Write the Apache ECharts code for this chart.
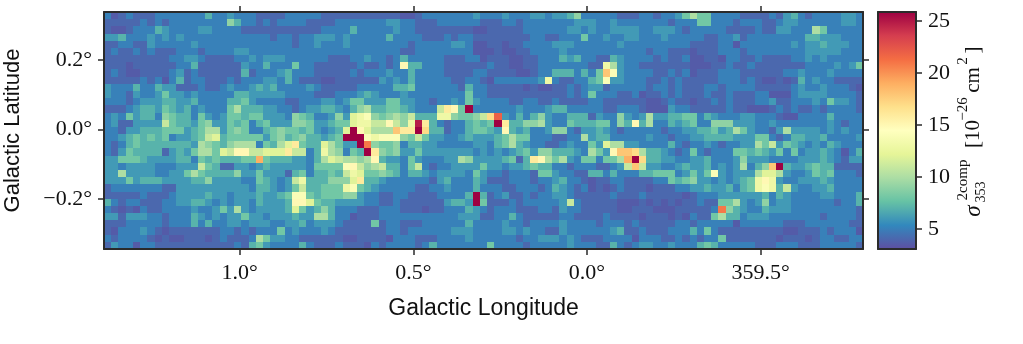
<!DOCTYPE html>
<html>
<head>
<meta charset="utf-8">
<script src="https://cdn.jsdelivr.net/npm/echarts@6/dist/echarts.min.js"></script>
<style>
  html, body { margin: 0; padding: 0; background: #fff; }
  #chart { width: 1023px; height: 344px; }
</style>
</head>
<body>
<div id="chart"></div>
<script>
// map values, top row first, split into four longitude blocks (left to right)
const blockA = [
  [5,3.5,4,5,4,4,4,5,5,5,5,5,5,5,7,5,5,6,5,5,5,4,4,4,4,5,5],
  [4,4,4,4,4,5,4,5,4,5,5,5,5,5,5,5,5,9,7,5,5,4,5,4,5,5,5],
  [4,3.5,3.5,4,5,5,5,7,6,5,5,5,5,6,6,5,5,5,5,4,4,4,4,4,4,4,4],
  [6,6,7,5,5,5,6,5,6,5,6,5,5,5,5,5,5,5,5,5,5,5,5,4,5,5,4],
  [4,4,5,5,4,4,6,5,5,5,5,5,6,5,5,5,5,5,5,5,5,5,5,5,5,5,4],
  [4,5,4,4,5,4,5,4,4,4,5,5,5,4,5,5,5,5,6,6,5,5,5,5,5,5,5],
  [4,4,4,4,4,4,4,4,4,5,5,6,6,5,4,4,4,4,5,5,6,5,6,6,6,5,5],
  [4,4,4,3.5,4,4,4,4,4,4,5,5,7,4,4,4,4,4,4,6,5,5,7,5,5,5,8],
  [4,5,4,3.5,3.5,4,4,4,4,5,6,4,5,4,4,4,4,4,4,7,4,5,5,5,6,7,5],
  [4,4,4,4,4,5,4,5,3.5,5,7,4,5,5,4,4,4,5,4,5,5,5,6,6,5,7,5],
  [6,5,5,5,7,5,5,7,6,6,4,4,4,5,4,4,5,6,5,5,6,7,6,7,5,5,5],
  [6,5,5,4,6,5,5,6,8,6,6,5,6,5,5,5,5,5,7,7,6,6,6,6,6,5,5],
  [5,5,5,4,5,6,6,6,7,7,6,6,7,5,5,5,5,7,7,8,6,5,5,5,5,4,4],
  [4,4,4,5,6,7,7,6,8,7,6,7,5,6,5,5,5,8,10,7,7,7,6,6,5,5,4],
  [5,6,5,8,6,7,7,5,9,8,7,7,5,8,6,5,6,8,8,7,8,8,6,6,6,5,9],
  [5,6,4,4,6,6,6,6,11,8,7,7,6,8,9,6,6,8,7,8,5,7,8,6,6,6,9],
  [5,5,4,6,6,7,7,7,8,8,8,6,7,8,10,10,6,8,9,8,5,5,7,8,9,8,8],
  [5,5,6,7,8,7,8,7,8,5,6,6,7,8,11,12,7,8,8,8,8,8,6,8,9,7,8],
  [5,4,5,7,8,7,7,7,7,7,7,7,6,10,9,8,7,9,10,10,10,5,8,7,10,12,16],
  [5,4,6,8,7,7,7,7,4,6,7,6,8,10,10,8,12,11,15,15,11,11,12,12,12,16,11],
  [6,6,8,8,8,7,6,6,6,6,7,7,5,8,7,8,7,7,7,8,8,19,8,7,7,7,6],
  [6,6,5,6,6,6,6,5,5,5,6,6,6,11,8,7,4,4,6,6,5,6,7,6,6,6,6],
  [6,6,10,6,6,6,6,5,5,6,6,8,10,8,7,7,7,7,9,6,6,8,6,6,6,4,7],
  [6,6,6,8,6,7,7,7,6,6,6,6,7,7,9,6,6,6,6,5,5,8,7,6,5,6,11],
  [4,5,5,5,5,5,5,5,4,4,6,6,6,6,6,6,6,6,6,6,5,7,7,6,5,6,8],
  [4,4,4,4,4,5,4,4,4,5,6,6,6,6,7,6,6,5,6,6,6,7,6,6,7,8,14],
  [7,5,4,5,5,4,4,4,5,5,6,6,7,7,6,5,6,5,6,6,5,7,6,6,6,7,15],
  [5,4,3.5,4,3.5,5,4,4,5,5,5,5,6,5,5,6,8,6,10,6,5,6,6,6,6,7,12],
  [6,6,4,6,6,6,5,5,4,5,5,5,7,6,5,6,5,6,6,8,6,6,5,6,6,6,7],
  [4,4,4,5,5,5,5,5,4,5,5,5,7,5,7,5,5,6,6,5,6,6,6,5,5,6,6],
  [4,3.5,5,5,5,6,5,4,3.5,4,4,4,4,4,4,4,5,5,4,5,4,5,5,5,8,5,6],
  [5,4,5,5,5,5,4,3.5,4,3.5,3.5,4,4,4,3.5,4,5,4,4,4,5,10,8,6,6,5,5],
  [4,6,5,5,3.5,5,5,4,4,4,4,4,4,4,4,4,4,4,5,4,7,8,6,5,5,5,5]
]
const blockB = [
  [5,5,5,4,4,4,4,4,4,4,4,4,4,4,3.5,3.5,4,5,5,5,5,5,5,5,6,5,5],
  [5,4,4,4,4,5,5,5,5,5,5,5,6,6,5,5,4,4,4,5,5,5,5,5,5,4,4],
  [4,4,4,5,5,5,5,7,5,5,5,5,5,6,5,5,4,4,4,4,4,4,4,4,3.5,3.5,4],
  [5,5,6,6,6,5,6,5,5,5,5,5,7,5,5,5,5,4,4,4,5,4,5,5,4,4,4],
  [5,5,6,5,5,5,6,5,5,5,5,5,5,5,5,4,5,5,5,5,5,6,6,5,3.5,3.5,4],
  [5,5,5,5,5,5,5,5,5,5,5,5,5,5,4,4,5,5,5,5,5,5,5,5,3.5,3.5,3.5],
  [5,5,5,5,4,4,4,5,5,6,5,5,4,5,7,5,5,5,5,5,4,4,4,5,5,3.5,4],
  [5,5,4,4,4,4,4,4,5,4,4,5,4,5,15,7,7,5,5,5,4,4,4,4,4,4,5],
  [5,5,4,4,4,4,4,5,4,5,5,5,6,5,5,7,5,5,5,5,4,4,4,4,5,5,4],
  [4,4,4,3.5,3.5,4,4,4,4,4,4,6,5,6,5,7,5,5,5,5,5,4,4,5,5,4,3.5],
  [5,6,5,4,4,4,4,4,5,5,5,5,5,7,7,8,5,5,5,5,5,5,4,7,5,5,4],
  [5,5,4,4,4,5,5,5,6,7,6,5,5,5,6,5,5,5,5,5,5,5,5,8,5,5,4],
  [5,5,5,6,6,5,6,8,8,6,6,6,8,8,6,6,5,5,4,5,5,6,5,8,6,5,5],
  [5,6,6,7,7,6,5,7,9,10,7,7,8,8,7,6,5,5,5,11,16,15,8,26,5,5,5],
  [8,7,5,5,6,9,6,12,13,14,9,8,9,10,9,11,7,7,7,13,13,9,8,8,9,11,17],
  [9,8,6,6,7,8,8,12,13,13,11,11,15,11,9,13,25,16,7,5,4,5,5,7,8,7,8],
  [7,8,6,5,6,7,12,26,15,12,10,10,10,18,16,16,26,17,7,7,4,5,5,7,8,8,7],
  [9,7,7,6,7,8,26,26,26,14,13,14,14,14,9,8,11,8,6,6,5,5,6,7,6,6,6],
  [8,7,7,12,10,8,6,6,26,21,9,8,8,9,5,7,7,6,6,5,5,5,5,5,6,6,5],
  [11,5,7,13,10,9,5,8,7,26,16,9,8,9,6,6,8,6,6,6,6,6,6,6,5,6,5],
  [6,5,7,10,12,11,10,10,9,10,15,7,6,6,5,8,6,5,5,5,6,6,10,9,6,6,6],
  [6,5,8,8,8,8,14,15,11,9,10,11,7,7,5,8,11,5,4,5,5,6,6,6,6,8,6],
  [8,5,7,7,8,7,11,13,12,8,8,9,8,7,5,7,7,6,5,6,6,6,6,5,8,6,5],
  [13,7,7,7,9,9,9,12,16,7,7,6,5,5,5,5,5,5,4,6,7,5,5,5,7,6,4],
  [11,7,7,8,8,8,13,14,8,7,6,5,5,5,5,5,4,4,5,5,6,5,5,5,7,5,5],
  [14,8,7,8,8,8,9,9,6,5,5,4,4,5,5,4,4,4,4,5,5,5,5,7,26,7,4],
  [15,12,8,7,7,6,6,6,6,5,5,4,4,5,4,4,4,4,4,4,6,7,7,6,26,8,4],
  [8,6,7,9,7,5,5,5,4,4,4,5,5,5,4,4,4,3.5,4,4,5,5,5,7,6,5,4],
  [6,6,10,10,7,5,5,3.5,4,4,4,5,5,5,5,5,5,5,5,5,5,5,6,6,6,4,4],
  [7,5,6,6,6,5,4,4,4,4,8,4,5,5,4,4,4,5,5,5,5,5,5,7,5,5,5],
  [5,5,5,6,5,4,4,4,4,4,4,4,5,5,4,5,5,5,5,5,5,6,6,6,5,5,5],
  [4,4,4,4,4,4,3.5,3.5,4,4,4,4,3.5,5,5,5,4,4,4,5,5,5,5,6,5,5,5],
  [7,5,4,4,4,5,4,4,4,3.5,5,4,5,5,5,5,4,5,7,5,5,5,5,5,5,5,8]
]
const blockC = [
  [5,6,5,5,5,6,6,5,6,6,7,9,5,5,5,5,5,4,4,4,5,5,4,5,5,6,8],
  [4,5,5,4,5,5,5,5,5,5,5,6,6,6,5,5,6,5,5,5,5,5,5,5,4,5,5],
  [4,4,4,4,5,5,5,5,5,5,6,6,5,6,5,5,6,6,6,6,5,5,6,6,6,5,4],
  [4,4,4,4,4,5,5,4,4,5,5,5,8,5,5,6,5,5,6,6,5,5,5,6,5,5,5],
  [4,3.5,4,4,5,5,5,5,6,6,6,5,5,5,5,5,5,6,5,5,5,5,5,5,5,5,5],
  [4,3.5,3.5,4,4,5,5,5,5,6,5,5,5,5,5,5,5,5,5,5,5,4,5,5,4,4,4],
  [4,4,3.5,3.5,4,4,5,5,5,7,6,7,5,5,4,4,7,6,5,5,5,5,4,5,4,4,5],
  [4,4,3.5,3.5,4,4,5,5,5,5,5,5,5,4,4,13,10,6,5,5,4,4,4,4,4,4,4],
  [4,4,4,3.5,3.5,4,5,5,7,7,7,5,7,5,8,18,14,6,5,5,5,5,4,4,5,4,5],
  [5,5,5,5,5,5,6,13,5,4,4,5,5,7,8,14,6,6,5,5,5,4,4,5,4,5,4],
  [4,4,4,4,3.5,4,3.5,3.5,4,4,5,4,5,6,6,4,5,5,5,5,5,4,5,5,4,5,4],
  [4,4,4,4,4,4,4,4,4,4,5,4,5,8,5,5,5,4,4,5,3.5,4,4,5,4,5,4],
  [5,5,4,4,5,5,4,4,5,4,4,4,4,5,5,4,4,4,4,4,4,3.5,3.5,4,5,4,4],
  [5,5,5,6,5,5,5,6,7,7,5,5,5,5,5,4,4,5,5,5,4,3.5,3.5,3.5,6,5,5],
  [22,6,5,7,5,7,9,6,5,5,7,7,7,4,6,5,5,9,6,5,6,10,6,6,7,7,8],
  [26,16,7,7,9,9,10,6,5,5,8,7,7,7,8,8,5,9,7,15,7,10,5,5,7,6,7],
  [6,15,7,6,7,5,5,6,9,9,5,4,6,6,7,6,5,4,5,5,5,5,5,4,5,5,6],
  [7,8,10,8,8,5,5,5,4,4,5,5,10,6,7,7,5,5,5,5,5,6,5,5,4,5,5],
  [7,8,10,7,6,5,5,4,4,5,6,5,5,8,6,12,10,10,6,6,5,5,5,5,7,5,4],
  [6,5,6,7,8,6,9,9,7,7,7,6,5,10,8,6,15,18,18,17,10,7,7,6,5,4,5],
  [6,7,8,4,7,16,15,10,8,10,6,5,8,8,5,8,8,10,19,26,17,7,7,6,6,5,5],
  [6,5,6,6,7,8,7,7,5,5,4,5,5,5,4,4,5,6,11,18,11,6,6,5,5,6,7],
  [5,4,5,5,5,4,8,8,6,5,5,4,4,7,7,5,7,5,5,5,7,7,8,8,8,5,6],
  [4,4,5,5,5,4,5,5,6,7,5,5,4,3.5,4,4,5,5,4,4,4,4,5,5,8,7,8],
  [5,4,4,5,5,5,4,5,7,6,5,4,5,3.5,4,3.5,4,5,4,4,4,3.5,4,4,4,5,5],
  [5,6,4,4,5,4,5,5,6,6,5,4,4,4,4,4,5,4,4,4,5,4,4,4,4,4,3.5],
  [4,4,5,4,5,5,5,5,5,6,11,5,4,4,4,4,4,3.5,3.5,3.5,4,3.5,4,3.5,4,3.5,4],
  [5,5,5,4,4,4,5,5,4,6,5,5,4,4,4,4,4,3.5,3.5,4,4,4,3.5,3.5,3.5,4,4],
  [5,5,7,5,4,4,4,4,4,5,5,4,4,4,4,5,4,4,4,4,3.5,4,4,4,3.5,4,3.5],
  [5,6,5,5,4,5,5,5,5,6,5,5,5,5,4,5,5,5,4,5,4,4,4,4,4,5,5],
  [5,6,6,5,6,5,5,4,4,6,5,5,5,5,5,5,6,7,4,4,5,4,4,4,5,5,5],
  [5,5,5,4,5,5,6,6,6,5,6,5,4,4,4,5,5,5,5,3.5,5,5,5,4,4,5,4],
  [5,5,5,5,4,5,5,5,5,5,6,5,5,5,4,4,7,5,4,5,6,6,5,5,6,5,5]
]
const blockD = [
  [10,8,8,5,5,5,5,4,4,4,4,5,4,6,7,5,4,5,5,5,5,6,6,5],
  [5,8,8,5,5,5,4,5,5,5,4,4,5,6,6,5,5,5,5,5,5,6,6,5],
  [5,5,5,5,5,4,4,4,4,5,4,4,6,6,5,5,5,10,8,5,5,5,5,5],
  [5,5,4,4,5,5,6,4,5,5,5,5,5,5,5,5,7,7,6,6,6,5,5,5],
  [4,4,4,4,5,5,3.5,5,5,5,5,5,5,5,6,5,6,6,7,6,6,6,5,5],
  [3.5,4,4,4,5,5,5,4,5,5,5,5,5,5,5,5,6,6,6,6,6,5,5,5],
  [3.5,3.5,4,4,3.5,5,5,4,4,5,4,4,4,4,5,5,6,5,6,5,5,5,5,5],
  [3.5,3.5,3.5,4,4,5,4,4,5,4,4,4,4,4,4,4,5,5,5,5,6,5,6,8],
  [3.5,4,4,4,5,5,5,4,4,4,4,4,4,5,5,6,5,5,5,6,5,5,5,5],
  [4,4,4,4,5,5,5,4,5,4,3.5,3.5,4,3.5,4,7,5,6,5,5,4,4,4,4],
  [4,4,5,5,4,5,5,5,5,4,4,4,4,4,5,6,5,5,6,5,5,5,4,3.5],
  [4,4,5,4,4,5,4,4,4,5,5,3.5,3.5,3.5,5,6,6,6,6,5,5,5,5,4],
  [3.5,4,4,5,4,5,4,4,4,5,5,6,4,4,5,5,5,6,5,8,6,6,5,4],
  [4,4,4,4,4,5,4,4,3.5,3.5,3.5,4,5,4,5,4,4,5,4,5,5,5,5,4],
  [8,5,7,6,5,5,5,6,6,5,5,5,4,3.5,3.5,5,5,5,5,7,5,5,5,5],
  [8,5,5,9,9,9,6,6,6,5,5,6,5,5,5,5,5,5,5,6,5,4,5,5],
  [6,7,7,8,6,7,10,8,6,5,5,4,6,10,6,6,6,6,5,6,5,6,5,5],
  [6,6,7,7,7,7,6,6,6,8,8,5,4,5,7,7,6,6,7,5,5,5,5,6],
  [5,5,6,5,4,5,5,6,6,10,8,11,6,8,7,6,5,6,5,7,6,5,5,5],
  [8,5,4,5,5,5,8,8,7,8,7,6,8,5,8,5,6,6,7,6,5,3.5,5,7],
  [6,6,7,5,5,5,6,9,6,6,6,5,5,5,5,6,6,6,7,6,5,4,6,6],
  [6,6,7,5,6,5,6,10,5,7,9,18,26,7,6,6,7,8,7,7,4,4,4,4],
  [8,6,8,14,6,5,6,6,6,10,12,12,10,6,5,5,6,8,7,8,5,5,5,4],
  [9,6,6,5,6,5,6,7,8,13,15,13,6,5,5,6,6,6,7,6,5,5,5,5],
  [6,6,7,6,6,7,5,7,8,13,14,13,7,11,6,5,5,6,6,7,5,5,5,5],
  [4,5,5,5,6,6,6,6,6,6,7,5,7,6,5,5,5,5,6,6,5,5,5,7],
  [4,5,4,4,8,8,10,6,5,6,9,5,6,6,5,5,5,5,5,5,4,5,5,7],
  [4,4,4,5,21,9,7,6,5,5,7,6,6,6,5,5,5,5,5,5,5,5,5,4],
  [5,4,4,8,10,7,7,5,6,6,6,5,5,5,5,5,5,5,4,5,5,5,5,4],
  [4,5,5,5,5,5,3.5,5,5,5,5,5,5,4,4,4,5,5,5,5,5,5,4,4],
  [7,5,8,5,4,4,4,4,4,4,4,4,4,3.5,3.5,4,4,4,5,4,5,5,5,3.5],
  [5,4,5,5,8,4,4,4,4,4,4,4,3.5,4,4,4,3.5,4,5,5,4,4,5,5],
  [5,7,8,7,5,5,5,5,5,4,4,4,5,5,5,4,4,4,5,5,5,5,5,4]
]

const lonRange = [-0.795, 1.391]
const latRange = [-0.344, 0.338]
const valueRange = [3.08, 25.87]
const lonTicks = [1.0, 0.5, 0.0, -0.5]
const latTicks = [0.2, 0.0, -0.2]
const barTicks = [5, 10, 15, 20, 25]
const spectral = ['#5e4fa2', '#3288bd', '#66c2a5', '#abdda4', '#e6f598', '#ffffbf', '#fee08b', '#fdae61', '#f46d43', '#d53e4f', '#9e0142']

const rows = blockA.map((r, i) => r.concat(blockB[i], blockC[i], blockD[i]))
const nCols = 105
const nRows = rows.length
const cellLon = (lonRange[1] - lonRange[0]) / nCols
const cellLat = (latRange[1] - latRange[0]) / nRows

const cells = []
rows.forEach((row, r) => {
  row.forEach((v, c) => {
    cells.push([lonRange[1] - (c + 0.5) * cellLon, latRange[1] - (r + 0.5) * cellLat, v])
  })
})

function renderCell(params, api) {
  const a = api.coord([api.value(0) + cellLon / 2, api.value(1) + cellLat / 2])
  const b = api.coord([api.value(0) - cellLon / 2, api.value(1) - cellLat / 2])
  const x = Math.round(a[0])
  const y = Math.round(a[1])
  return {
    type: 'rect',
    shape: { x: x, y: y, width: Math.round(b[0]) - x, height: Math.round(b[1]) - y },
    style: { fill: api.visual('color') }
  }
}

function renderBar(params, api) {
  const a = api.coord([0, valueRange[1]])
  const b = api.coord([1, valueRange[0]])
  return {
    type: 'rect',
    shape: { x: a[0], y: a[1], width: b[0] - a[0], height: b[1] - a[1] },
    style: {
      fill: new echarts.graphic.LinearGradient(0, 1, 0, 0,
        spectral.map((c, i) => ({ offset: i / (spectral.length - 1), color: c })))
    }
  }
}

const serif = '"Liberation Serif", serif'
const sans = '"Liberation Sans", sans-serif'
const frame = { show: true, onZero: false, lineStyle: { color: '#2b2b2b', width: 2 } }
const tick = { show: true, length: 6, lineStyle: { color: '#2b2b2b', width: 1.5 } }
const tickLabel = { fontFamily: serif, fontSize: 22, color: '#111' }

function degLon(v) {
  return (v < 0 ? 360 + v : v).toFixed(1) + '°'
}
function degLat(v) {
  return (v < 0 ? '\u2212' + Math.abs(v).toFixed(1) : v.toFixed(1)) + '°'
}

function sideText(text, x, y, size, italic) {
  return {
    type: 'text',
    x: x,
    y: y,
    rotation: Math.PI / 2,
    style: {
      text: text,
      fill: '#111',
      font: (italic ? 'italic ' : '') + size + 'px ' + serif,
      align: 'center',
      verticalAlign: 'middle'
    }
  }
}

const chart = echarts.init(document.getElementById('chart'), null, { renderer: 'canvas' })
chart.setOption({
  animation: false,
  backgroundColor: '#fff',
  grid: [
    { left: 104, top: 12, width: 759, height: 237, outerBoundsMode: 'none' },
    { left: 878, top: 12, width: 38, height: 237, outerBoundsMode: 'none' }
  ],
  xAxis: [
    {
      type: 'value', gridIndex: 0, inverse: true, min: lonRange[0], max: lonRange[1], z: 10,
      position: 'bottom', splitLine: { show: false }, axisLine: frame,
      axisTick: { ...tick, customValues: lonTicks },
      axisLabel: { ...tickLabel, customValues: lonTicks, margin: 13, formatter: degLon },
      name: 'Galactic Longitude', nameLocation: 'middle', nameGap: 48,
      nameTextStyle: { fontFamily: sans, fontSize: 23, color: '#111' }
    },
    {
      type: 'value', gridIndex: 0, inverse: true, min: lonRange[0], max: lonRange[1], z: 10,
      position: 'top', splitLine: { show: false }, axisLine: frame,
      axisTick: { ...tick, customValues: lonTicks }, axisLabel: { show: false }
    },
    {
      type: 'value', gridIndex: 1, min: 0, max: 1, z: 10, position: 'bottom',
      splitLine: { show: false }, axisLine: frame, axisTick: { show: false }, axisLabel: { show: false }
    },
    {
      type: 'value', gridIndex: 1, min: 0, max: 1, z: 10, position: 'top',
      splitLine: { show: false }, axisLine: frame, axisTick: { show: false }, axisLabel: { show: false }
    }
  ],
  yAxis: [
    {
      type: 'value', gridIndex: 0, min: latRange[0], max: latRange[1], z: 10,
      position: 'left', splitLine: { show: false }, axisLine: frame,
      axisTick: { ...tick, customValues: latTicks },
      axisLabel: { ...tickLabel, customValues: latTicks, margin: 12, formatter: degLat },
      name: 'Galactic Latitude', nameLocation: 'middle', nameGap: 80,
      nameTextStyle: { fontFamily: sans, fontSize: 22, color: '#111' }
    },
    {
      type: 'value', gridIndex: 0, min: latRange[0], max: latRange[1], z: 10,
      position: 'right', splitLine: { show: false }, axisLine: frame,
      axisTick: { ...tick, customValues: latTicks }, axisLabel: { show: false }
    },
    {
      type: 'value', gridIndex: 1, min: valueRange[0], max: valueRange[1], z: 10,
      position: 'right', splitLine: { show: false }, axisLine: frame,
      axisTick: { ...tick, customValues: barTicks },
      axisLabel: { ...tickLabel, customValues: barTicks, margin: 12 }
    },
    {
      type: 'value', gridIndex: 1, min: valueRange[0], max: valueRange[1], z: 10,
      position: 'left', splitLine: { show: false }, axisLine: frame,
      axisTick: { show: false }, axisLabel: { show: false }
    }
  ],
  visualMap: {
    show: false,
    seriesIndex: 0,
    dimension: 2,
    min: 3,
    max: 26,
    inRange: { color: spectral }
  },
  series: [
    {
      type: 'custom',
      xAxisIndex: 0,
      yAxisIndex: 0,
      renderItem: renderCell,
      data: cells,
      encode: { x: 0, y: 1 },
      silent: true
    },
    {
      type: 'custom',
      xAxisIndex: 2,
      yAxisIndex: 2,
      renderItem: renderBar,
      data: [[0, valueRange[0]]],
      encode: { x: 0, y: 1 },
      silent: true
    }
  ],
  graphic: [
    sideText('σ', 974, 211, 23, true),
    sideText('2comp', 963, 180, 15, false),
    sideText('353', 981, 192, 14, false),
    sideText('[10', 973, 134, 21, false),
    sideText('\u221226', 963, 109, 15, false),
    sideText('cm', 973, 80, 21, false),
    sideText('2', 963, 61, 15, false),
    sideText(']', 973, 50, 21, false)
  ]
})
</script>
</body>
</html>
